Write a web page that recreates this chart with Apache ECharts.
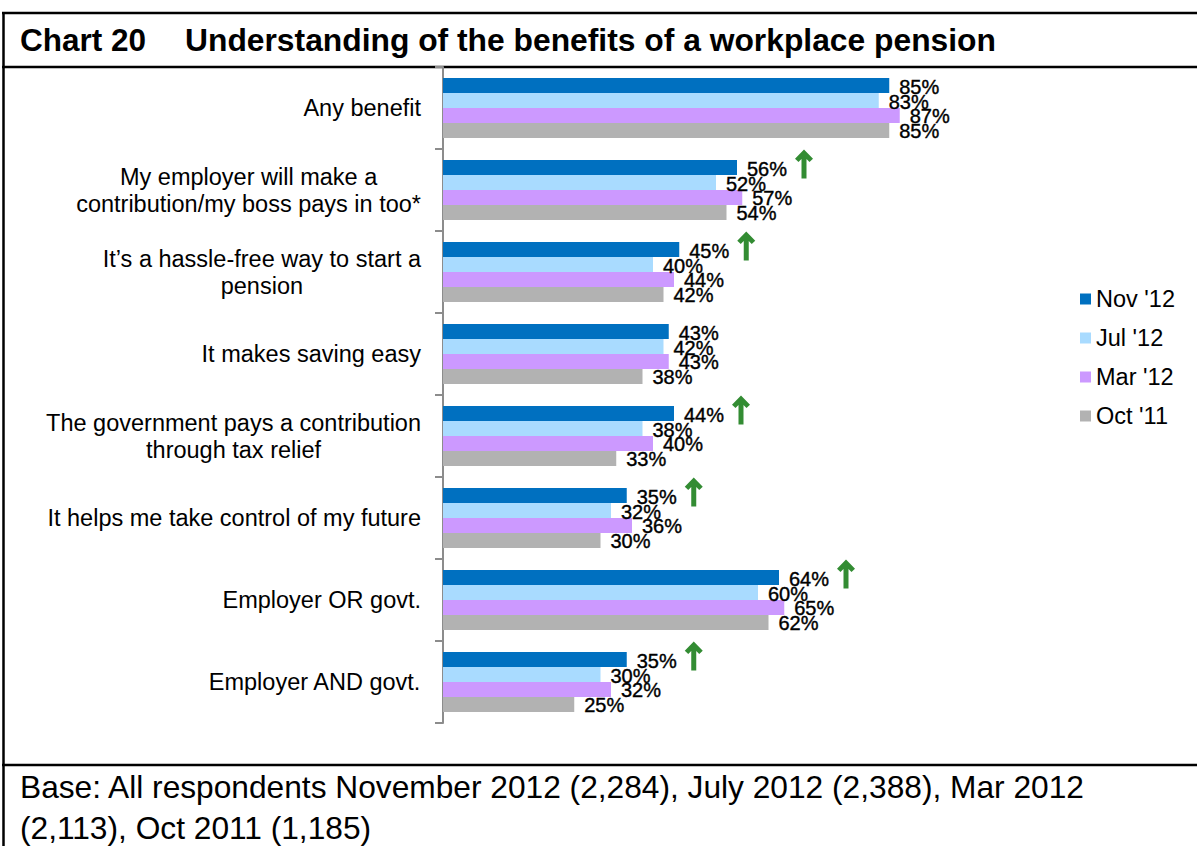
<!DOCTYPE html>
<html>
<head>
<meta charset="utf-8">
<script src="https://cdn.jsdelivr.net/npm/echarts@6/dist/echarts.min.js"></script>
<style>
  html, body { margin: 0; padding: 0; background: #ffffff; }
  #chart { width: 1197px; height: 846px; }
</style>
</head>
<body>
<div id="chart"></div>
<script>
// Survey wording for each benefit (top to bottom)
const categories = [
  'Any benefit',
  'My employer will make a\ncontribution/my boss pays in too*',
  'It\u2019s a hassle-free way to start a\npension',
  'It makes saving easy',
  'The government pays a contribution\nthrough tax relief',
  'It helps me take control of my future',
  'Employer OR govt.',
  'Employer AND govt.'
];

// Survey waves
const waveNames = ["Nov '12", "Jul '12", "Mar '12", "Oct '11"];

// Percentage of respondents citing each benefit, per wave
const nov12 = [85, 56, 45, 43, 44, 35, 64, 35];
const jul12 = [83, 52, 40, 42, 38, 32, 60, 30];
const mar12 = [87, 57, 44, 43, 40, 36, 65, 32];
const oct11 = [85, 54, 42, 38, 33, 30, 62, 25];

// Significant rise in the latest wave (green up arrow)
const riseFlags = [false, true, true, false, true, true, true, true];

const chartNumber = 'Chart 20';
const chartTitle = 'Understanding of the benefits of a workplace pension';
const baseNote = 'Base: All respondents November 2012 (2,284), July 2012 (2,388), Mar 2012\n(2,113), Oct 2011 (1,185)';

const waveColors = ['#0070C0', '#A9DBFF', '#CC99FF', '#B2B2B2'];
const FONT = '"Liberation Sans", Arial, Helvetica, sans-serif';

const waveValues = [nov12, jul12, mar12, oct11];

const barSeries = waveNames.map((name, k) => ({
  name: name,
  type: 'bar',
  data: waveValues[k],
  barGap: '0%',
  barCategoryGap: '27%',
  itemStyle: { color: waveColors[k] },
  label: {
    show: true,
    position: 'right',
    distance: 10,
    offset: [0, 1],
    formatter: p => p.value + '%',
    fontFamily: FONT,
    fontSize: 20,
    color: '#000000',
    textBorderColor: '#000000',
    textBorderWidth: 0.4
  },
  emphasis: { disabled: true },
  z: 2
}));

// Up arrows placed beside the latest-wave bar of each flagged benefit
const arrowData = [];
riseFlags.forEach((flag, i) => {
  if (flag) arrowData.push([nov12[i], i]);
});

const arrowSeries = {
  name: 'rise',
  type: 'scatter',
  data: arrowData,
  symbol: 'path://M9,0 L18,9.5 L14.5,13 L11.5,9.8 L11.5,30 L6.5,30 L6.5,9.8 L3.5,13 L0,9.5 Z',
  symbolSize: [18, 29],
  symbolOffset: [67, -26],
  itemStyle: { color: '#006F00' },
  silent: true,
  z: 5
};

const chart = echarts.init(document.getElementById('chart'), null, { renderer: 'svg' });

chart.setOption({
  backgroundColor: '#ffffff',
  animation: false,
  title: [
    {
      text: chartNumber,
      left: 20, top: 24, padding: 0,
      textStyle: { fontFamily: FONT, fontSize: 31.5, fontWeight: 'bold', color: '#000000' }
    },
    {
      text: chartTitle,
      left: 185, top: 24, padding: 0,
      textStyle: { fontFamily: FONT, fontSize: 31.8, fontWeight: 'bold', color: '#000000' }
    },
    {
      text: baseNote,
      left: 20, top: 766, padding: 0,
      textStyle: { fontFamily: FONT, fontSize: 31.7, fontWeight: 'normal', color: '#000000', lineHeight: 41 }
    }
  ],
  legend: {
    data: waveNames,
    orient: 'vertical',
    left: 1080,
    top: 287,
    padding: 0,
    icon: 'rect',
    itemWidth: 11,
    itemHeight: 11,
    itemGap: 15,
    selectedMode: false,
    textStyle: { fontFamily: FONT, fontSize: 23.5, color: '#000000' }
  },
  grid: {
    left: 443,
    top: 67,
    width: 525,
    height: 656,
    containLabel: false
  },
  xAxis: {
    type: 'value',
    min: 0,
    max: 100,
    show: false
  },
  yAxis: {
    type: 'category',
    inverse: true,
    data: categories,
    axisLine: { show: true, lineStyle: { color: '#8C8C8C', width: 2 } },
    axisTick: { show: true, length: 8, interval: 0, lineStyle: { color: '#8C8C8C', width: 2 } },
    axisLabel: {
      interval: 0,
      margin: 22,
      formatter: v => v.split('\n').map(line => '{c|' + line + '}').join('\n'),
      rich: {
        c: { align: 'center', fontFamily: FONT, fontSize: 23.5, lineHeight: 27, color: '#000000' }
      }
    },
    splitLine: { show: false }
  },
  graphic: [
    { type: 'line', shape: { x1: 2, y1: 13, x2: 1197, y2: 13 }, style: { stroke: '#000000', lineWidth: 2.5 }, silent: true },
    { type: 'line', shape: { x1: 2, y1: 67, x2: 1197, y2: 67 }, style: { stroke: '#000000', lineWidth: 2.5 }, silent: true },
    { type: 'line', shape: { x1: 2, y1: 765, x2: 1197, y2: 765 }, style: { stroke: '#000000', lineWidth: 2.5 }, silent: true },
    { type: 'line', shape: { x1: 3.5, y1: 12, x2: 3.5, y2: 846 }, style: { stroke: '#000000', lineWidth: 2.5 }, silent: true }
  ],
  series: barSeries.concat([arrowSeries])
});
</script>
</body>
</html>
